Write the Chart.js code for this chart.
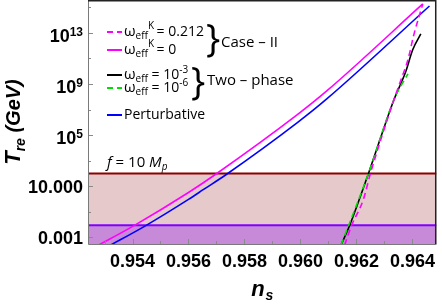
<!DOCTYPE html>
<html>
<head>
<meta charset="utf-8">
<script src="https://cdn.jsdelivr.net/npm/chart.js@4.4.0/dist/chart.umd.min.js"></script>
<style>
    html, body { margin: 0; padding: 0; background: #fff; }
    canvas { display: block; }
</style>
</head>
<body>
<canvas id="chart" width="442" height="305"></canvas>
<script>
// axis ranges and ticks (n_s on x, T_re in GeV on a log y axis)
const xRange = [0.95241, 0.96486];
const yRange = [3.4e-4, 3.8e15];
const xTicks = [0.954, 0.956, 0.958, 0.960, 0.962, 0.964];
const xMinorTicks = [0.953, 0.955, 0.957, 0.959, 0.961, 0.963];
const yTicks = [1e-3, 1e1, 1e5, 1e9, 1e13];
const yTickLabels = ['0.001', '10.000', '10^5', '10^9', '10^13'];
const yMinorTicks = [1e-1, 1e3, 1e7, 1e11, 1e15];

// Case II, omega_eff^K = 0
const caseK0_ns = [0.9527, 0.95407, 0.9560, 0.95696, 0.95989, 0.96095, 0.96437];
const caseK0_T  = [1.95e-4, 8.7e-3, 3.24, 83, 4.0e6, 3.0e8, 1.86e15];

// Case II, omega_eff^K = 0.212
const caseK212_ns = [0.96158, 0.96183, 0.96225, 0.96250, 0.96334, 0.96359, 0.96384, 0.96405, 0.96437];
const caseK212_T  = [2.5e-4, 8.7e-3, 0.93, 100, 5.9e7, 2.1e9, 7.9e10, 7.1e12, 1.86e15];

// Two-phase, omega_eff = 1e-3
const twoPhase3_ns = [0.96145, 0.96176, 0.96243, 0.96334, 0.96376, 0.96401, 0.96430];
const twoPhase3_T  = [2.5e-4, 8.7e-3, 100, 5.9e7, 9.1e9, 4.8e11, 8.3e12];

// Two-phase, omega_eff = 1e-6
const twoPhase6_ns = [0.96145, 0.96243, 0.96334, 0.96384];
const twoPhase6_T  = [2.5e-4, 100, 5.9e7, 6.3e9];

// Perturbative
const pert_ns = [0.9531, 0.95449, 0.9560, 0.95654, 0.95735, 0.95989, 0.96095, 0.96461];
const pert_T  = [1.78e-4, 8.7e-3, 0.93, 5.6, 83, 9.5e5, 7.1e7, 1.29e15];

// excluded regions
const boundF10 = 100;     // f = 10 M_p
const boundBBN = 0.009;

const pts = (xs, ys) => xs.map((x, i) => ({ x: x, y: ys[i] }));

const FONT_AX = 'Liberation Sans, Arial, sans-serif';
const FONT_LG = 'Open Sans, sans-serif';

function curve(label, xs, ys, color, dash, order) {
    return {
        label: label,
        data: pts(xs, ys),
        borderColor: color,
        borderWidth: 1.6,
        borderDash: dash,
        pointRadius: 0,
        fill: false,
        cubicInterpolationMode: 'monotone',
        order: order
    };
}

function band(y, line, area, order) {
    return {
        label: 'band',
        data: pts(xRange, [y, y]),
        borderColor: line,
        borderWidth: 2,
        backgroundColor: area,
        pointRadius: 0,
        fill: 'start',
        order: order
    };
}

// draw runs of text with their own font and vertical shift
function rich(ctx, parts, x, y) {
    let cx = x;
    parts.forEach(p => {
        ctx.font = p.font;
        ctx.fillText(p.t, cx, y + (p.dy || 0));
        cx += ctx.measureText(p.t).width + (p.gap || 0);
    });
    return cx;
}
function richWidth(ctx, parts) {
    let w = 0;
    parts.forEach(p => { ctx.font = p.font; w += ctx.measureText(p.t).width + (p.gap || 0); });
    return w;
}

const decorations = {
    id: 'decorations',
    afterDatasetsDraw(chart) {
        const ctx = chart.ctx;
        const a = chart.chartArea;
        const xs = chart.scales.x, ys = chart.scales.y;
        ctx.save();

        // inward ticks
        ctx.strokeStyle = '#8a8a8a';
        ctx.lineWidth = 1;
        const tick = (px, len, horiz) => {
            ctx.beginPath();
            if (horiz) { ctx.moveTo(a.left, px); ctx.lineTo(a.left + len, px); }
            else { ctx.moveTo(px, a.bottom); ctx.lineTo(px, a.bottom - len); }
            ctx.stroke();
        };
        xTicks.forEach(v => tick(Math.round(xs.getPixelForValue(v)) + 0.5, 5, false));
        xMinorTicks.forEach(v => tick(Math.round(xs.getPixelForValue(v)) + 0.5, 3, false));
        yTicks.forEach(v => tick(Math.round(ys.getPixelForValue(v)) + 0.5, 5, true));
        yMinorTicks.forEach(v => tick(Math.round(ys.getPixelForValue(v)) + 0.5, 3, true));

        // frame
        ctx.strokeStyle = '#7a7a7a';
        ctx.beginPath();
        ctx.moveTo(a.left + 0.5, a.top); ctx.lineTo(a.left + 0.5, a.bottom + 0.5); ctx.lineTo(a.right, a.bottom + 0.5);
        ctx.stroke();
        ctx.strokeStyle = '#222';
        ctx.lineWidth = 1.5;
        ctx.beginPath();
        ctx.moveTo(a.left, a.top + 0.75); ctx.lineTo(a.right - 0.75, a.top + 0.75); ctx.lineTo(a.right - 0.75, a.bottom);
        ctx.stroke();

        ctx.fillStyle = '#000';
        ctx.textBaseline = 'alphabetic';

        // y tick labels
        yTicks.forEach((v, i) => {
            const py = ys.getPixelForValue(v);
            const lab = yTickLabels[i];
            ctx.textAlign = 'left';
            if (lab.indexOf('^') >= 0) {
                const [b, e] = lab.split('^');
                const parts = [
                    { t: b, font: 'bold 18px ' + FONT_AX },
                    { t: e, font: 'bold 12px ' + FONT_AX, dy: -6 }
                ];
                const w = richWidth(ctx, parts);
                rich(ctx, parts, 83 - w, py + 9);
            } else {
                ctx.font = 'bold 18px ' + FONT_AX;
                ctx.textAlign = 'right';
                ctx.fillText(lab, 83, py + 7);
            }
        });
        ctx.textAlign = 'left';

        // x axis title
        const nParts = [
            { t: 'n', font: 'italic bold 22px ' + FONT_AX, gap: 1 },
            { t: 's', font: 'italic bold 14px ' + FONT_AX, dy: 4 }
        ];
        const nw = richWidth(ctx, nParts);
        rich(ctx, nParts, (a.left + a.right) / 2 - nw / 2, 296);

        // y axis title
        const tParts = [
            { t: 'T', font: 'italic bold 22px ' + FONT_AX },
            { t: 're', font: 'italic bold 14px ' + FONT_AX, dy: 5 },
            { t: ' (GeV)', font: 'italic bold 20px ' + FONT_AX }
        ];
        const tw = richWidth(ctx, tParts);
        ctx.save();
        ctx.translate(20, (a.top + a.bottom) / 2);
        ctx.rotate(-Math.PI / 2);
        rich(ctx, tParts, -tw / 2, 0);
        ctx.restore();

        // f = 10 M_p label
        rich(ctx, [
            { t: 'f', font: 'italic 15px ' + FONT_LG },
            { t: ' = 10 ', font: '15px ' + FONT_LG },
            { t: 'M', font: 'italic 15px ' + FONT_LG },
            { t: 'p', font: 'italic 10px ' + FONT_LG, dy: 3 }
        ], 107, 167);

        // legend
        const ds = chart.data.datasets;
        const rows = [
            { set: 0, y: 32, txt: [{ t: ' = 0.212', font: '14px ' + FONT_LG }], sup: 'K' },
            { set: 1, y: 50, txt: [{ t: ' = 0', font: '14px ' + FONT_LG }], sup: 'K' },
            { set: 2, y: 75, txt: [{ t: ' = 10', font: '14px ' + FONT_LG }, { t: '-3', font: '10px ' + FONT_LG, dy: -6 }] },
            { set: 3, y: 88, txt: [{ t: ' = 10', font: '14px ' + FONT_LG }, { t: '-6', font: '10px ' + FONT_LG, dy: -6 }] },
            { set: 4, y: 115, plain: 'Perturbative' }
        ];
        rows.forEach(r => {
            const d = ds[r.set];
            ctx.strokeStyle = d.borderColor;
            ctx.lineWidth = 2;
            ctx.setLineDash(d.borderDash || []);
            ctx.beginPath();
            ctx.moveTo(107, r.y); ctx.lineTo(122, r.y);
            ctx.stroke();
            ctx.setLineDash([]);
            const by = r.y + 4;
            if (r.plain) {
                ctx.font = '14px ' + FONT_LG;
                ctx.fillText(r.plain, 124, by);
                return;
            }
            let x = rich(ctx, [{ t: '\u03C9', font: '15px ' + FONT_LG }], 124, by);
            ctx.font = '10px ' + FONT_LG;
            const effW = ctx.measureText('eff').width;
            ctx.fillText('eff', x, by + 3);
            if (r.sup) ctx.fillText(r.sup, x + effW, by - 7);
            x += effW + (r.sup ? 5 : 0);
            rich(ctx, r.txt, x, by);
        });

        // braces and group names
        ctx.font = '38px ' + FONT_LG;
        ctx.fillText('}', 206, 52);
        ctx.fillText('}', 191, 95);
        ctx.font = '15px ' + FONT_LG;
        ctx.fillText('Case \u2013 II', 221, 47);
        ctx.fillText('Two \u2013 phase', 207, 85);

        ctx.restore();
    }
};

const datasets = [
    curve('\u03C9effK = 0.212', caseK212_ns, caseK212_T, '#ff00ff', [6, 4], 1),
    curve('\u03C9effK = 0', caseK0_ns, caseK0_T, '#ff00ff', [], 4),
    curve('\u03C9eff = 10^-3', twoPhase3_ns, twoPhase3_T, '#000000', [], 3),
    curve('\u03C9eff = 10^-6', twoPhase6_ns, twoPhase6_T, '#00e000', [6, 4], 2),
    curve('Perturbative', pert_ns, pert_T, '#0000ff', [], 5),
    band(boundF10, '#8b0000', '#e6c9cb', 20),
    band(boundBBN, '#8000ff', '#c78ad9', 19)
];

new Chart(document.getElementById('chart'), {
    type: 'line',
    data: { datasets: datasets },
    options: {
        responsive: false,
        devicePixelRatio: 1,
        animation: false,
        layout: { padding: { top: 0, right: 1, left: 0, bottom: 0 } },
        plugins: { legend: { display: false }, tooltip: { enabled: false } },
        scales: {
            x: {
                type: 'linear',
                min: xRange[0],
                max: xRange[1],
                grid: { display: false, drawTicks: false },
                border: { display: false },
                ticks: {
                    font: { family: FONT_AX, size: 18, weight: 'bold' },
                    color: '#000',
                    padding: 7,
                    maxRotation: 0,
                    callback: v => v.toFixed(3)
                },
                afterBuildTicks: s => { s.ticks = xTicks.map(v => ({ value: v })); },
                afterFit: s => { s.height = 61; }
            },
            y: {
                type: 'logarithmic',
                min: yRange[0],
                max: yRange[1],
                grid: { display: false, drawTicks: false },
                border: { display: false },
                ticks: { display: false },
                afterBuildTicks: s => { s.ticks = yTicks.map(v => ({ value: v })); },
                afterFit: s => { s.width = 88; }
            }
        }
    },
    plugins: [decorations]
});
</script>
</body>
</html>
